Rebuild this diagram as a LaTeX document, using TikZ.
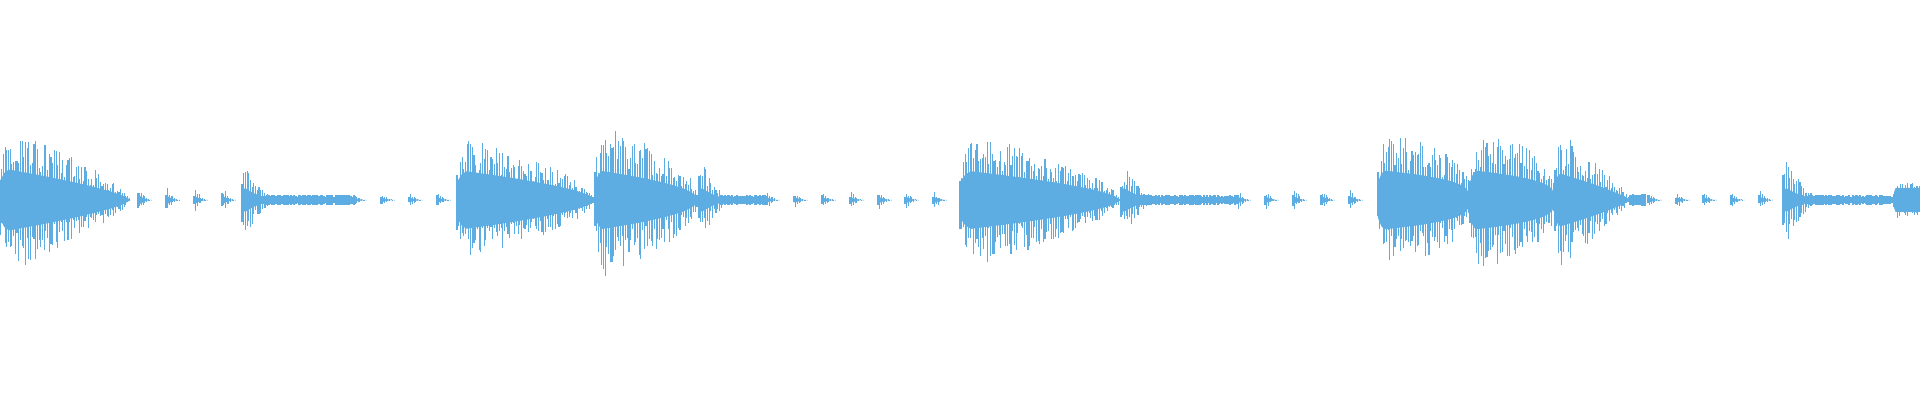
\documentclass[tikz,border=0pt]{standalone}
\definecolor{wavec}{RGB}{93,173,226}
\tikzset{wv/.style={draw=wavec,line width=0.55pt},wavefill/.style={fill=wavec}}
\newcommand\burst[5]{%
 \fill[wavefill] plot[domain=0:1,samples=30] ({#1+(#2-#1)*\x},{200+#4*min(1,0.6+8*\x)*max(1-\x,0.001)^#5}) -- plot[domain=1:0,samples=30] ({#1+(#2-#1)*\x},{200-#4*min(1,0.6+8*\x)*max(1-\x,0.001)^#5}) -- cycle;
 \pgfmathsetmacro\st{#1+1.7}
 \foreach \xx in {#1,\st,...,#2}{%
  \pgfmathsetmacro\t{(\xx-#1)/(#2-#1)}%
  \pgfmathsetmacro\ea{#3*min(1,0.5+6*\t)*max(1-\t,0.001)^#5*(0.45+0.55*rnd)}%
  \pgfmathsetmacro\eb{#3*min(1,0.5+6*\t)*max(1-\t,0.001)^#5*(0.45+0.55*rnd)}%
  \draw[wv] (\xx,200+\ea) -- (\xx,200-\eb);}}
\newcommand\tick[2]{\pgfmathsetmacro\tend{#1+14}\pgfmathsetmacro\tc{#2*0.3}\burst{#1}{\tend}{#2}{\tc}{2}}
\newcommand\tail[3]{\fill[wavefill] (#1,200-#3) rectangle (#2,200+#3);
 \foreach \xx in {#1,...,#2}{\pgfmathsetmacro\ea{#3*(1+1.2*rnd)}\draw[wv] (\xx,200+\ea)--(\xx,200-\ea);}}
\begin{document}
\begin{tikzpicture}[x=0.5pt,y=-0.5pt]
\pgfmathsetseed{7}
\useasboundingbox (0,0) rectangle (1920,400);
% 1
\burst{0}{130}{76}{32}{0.7}
\tick{138}{18}\tick{166}{16}\tick{194}{15}\tick{222}{15}
% 2
\tail{245}{355}{2.5}
\burst{242}{290}{46}{14}{2.5}
\tick{353}{9}\tick{381}{9}\tick{409}{9}\tick{437}{10}
% 3
\burst{457}{595}{66}{30}{0.6}
\burst{595}{698}{80}{30}{0.5}
\tail{700}{765}{2.5}
\burst{699}{745}{48}{14}{2.5}
\tick{766}{10}\tick{794}{10}\tick{822}{10}\tick{850}{11}\tick{878}{12}\tick{905}{12}\tick{933}{12}
% 4
\burst{960}{1120}{70}{30}{0.6}
\tail{1123}{1235}{2.5}
\burst{1121}{1170}{43}{14}{2.5}
\tick{1237}{12}\tick{1265}{12}\tick{1293}{14}\tick{1321}{14}\tick{1349}{14}
% 5
\burst{1378}{1470}{70}{30}{0.3}
\burst{1470}{1555}{74}{30}{0.3}
\burst{1555}{1630}{72}{28}{0.8}
\tail{1630}{1645}{3}
\tick{1648}{10}\tick{1676}{10}\tick{1703}{10}\tick{1731}{10}\tick{1759}{12}
% 6
\tail{1786}{1892}{2.5}
\burst{1783}{1835}{52}{14}{2.5}
\burst{1894}{1920}{18}{12}{0}
\end{tikzpicture}
\end{document}
